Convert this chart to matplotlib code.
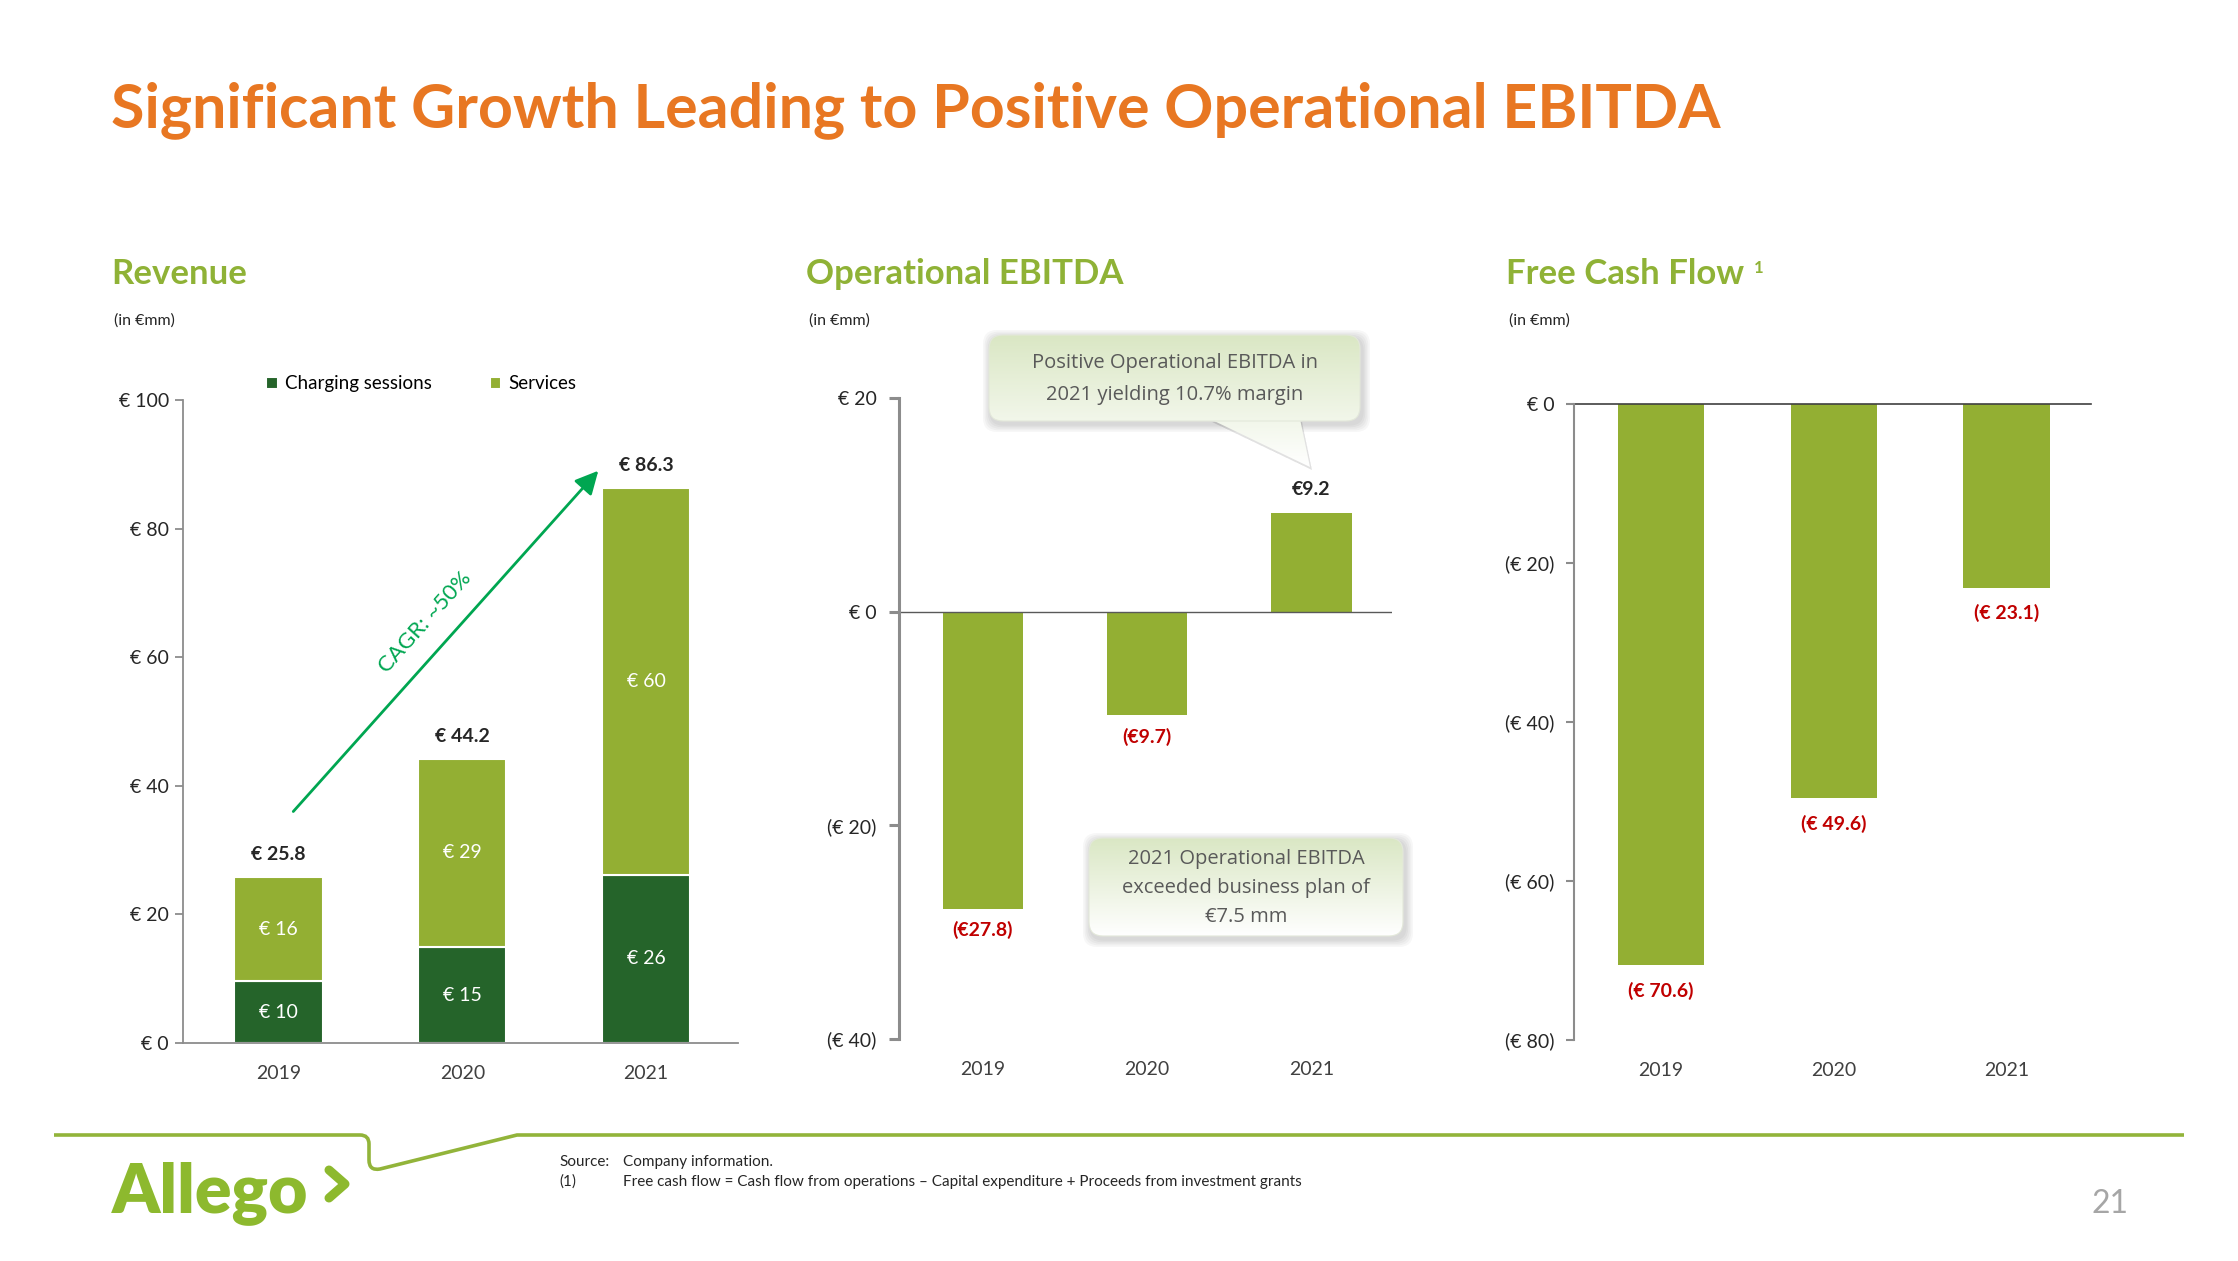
import matplotlib
matplotlib.use('Agg')  # no display in the sandbox
import matplotlib.pyplot as plt
import numpy as np
from matplotlib.patches import FancyBboxPatch, Polygon, PathPatch
from matplotlib.path import Path
from matplotlib.colors import LinearSegmentedColormap
from matplotlib.ticker import FuncFormatter

# --- values ---
years = ['2019', '2020', '2021']
charging_sessions = [9.6, 14.9, 26.2]
services = [16.2, 29.3, 60.1]
revenue_total = [25.8, 44.2, 86.3]
op_ebitda = [-27.8, -9.7, 9.2]
free_cash_flow = [-70.6, -49.6, -23.1]
rev_ticks = [0, 20, 40, 60, 80, 100]
ebitda_ticks = [-40, -20, 0, 20]
fcf_ticks = [-80, -60, -40, -20, 0]
cagr_label = 'CAGR: ~50%'
cagr_start = (0.08, 36)
cagr_end = (1.74, 89)

title = 'Significant Growth Leading to Positive Operational EBITDA'
callout_top = ['Positive Operational EBITDA in', '2021 yielding 10.7% margin']
callout_bottom = ['2021 Operational EBITDA', 'exceeded business plan of', '€7.5 mm']

ORANGE = '#E87722'
LIGHT = '#93AF33'
DARK = '#25642A'
HEAD = '#8FB236'
RED = '#C00000'
TXT = '#262626'
AXIS = '#8C8C8C'
ARROW = '#00A651'

plt.rcParams['font.family'] = ['Lato', 'DejaVu Sans']

W, H = 2238, 1261
fig = plt.figure(figsize=(W / 100, H / 100), dpi=100)


def px_axes(x0, y0, x1, y1):
    return fig.add_axes([x0 / W, 1 - y1 / H, (x1 - x0) / W, (y1 - y0) / H])


def ftext(x, y, s, **kw):
    return fig.text(x / W, 1 - y / H, s, **kw)


def euro(v, pos=None):
    return f'€ {v:.0f}' if v >= 0 else f'(€ {-v:.0f})'


def style_axis(ax, lw, pad, length):
    for s in ['top', 'right', 'bottom']:
        ax.spines[s].set_visible(False)
    ax.spines['left'].set_color(AXIS)
    ax.spines['left'].set_linewidth(lw)
    ax.yaxis.set_major_formatter(FuncFormatter(euro))
    ax.tick_params(axis='y', direction='out', length=length, width=lw, color=AXIS,
                   pad=pad, labelsize=14, labelcolor=TXT)
    ax.tick_params(axis='x', length=0, pad=16, labelsize=14, labelcolor='#404040')


x = np.arange(len(years))

# --- Revenue ---
ax1 = px_axes(183, 400, 738, 1043)
b1 = ax1.bar(x, charging_sessions, 0.48, color=DARK, edgecolor='white', linewidth=1.5)
b2 = ax1.bar(x, services, 0.48, bottom=charging_sessions, color=LIGHT, edgecolor='white', linewidth=1.5)
ax1.set_xlim(-0.52, 2.5)
ax1.set_ylim(0, 100)
ax1.set_yticks(rev_ticks)
ax1.set_xticks(x, years)
style_axis(ax1, 1.3, 4, 6)
ax1.spines['bottom'].set_visible(True)
ax1.spines['bottom'].set_color(AXIS)
ax1.spines['bottom'].set_linewidth(1.3)
for xi, c, s, t in zip(x, charging_sessions, services, revenue_total):
    ax1.text(xi, c / 2, f'€ {c:.0f}', ha='center', va='center', color='white', fontsize=14)
    ax1.text(xi, c + s / 2, f'€ {s:.0f}', ha='center', va='center', color='white', fontsize=14)
    ax1.annotate(f'€ {t}', (xi, t), xytext=(0, 10), textcoords='offset points',
                 ha='center', va='bottom', fontsize=14, weight='bold', color=TXT)
ax1.legend([b1, b2], ['Charging sessions', 'Services'], ncol=2, loc='center left',
           bbox_to_anchor=(0.15, 1.025), frameon=False, fontsize=13.5, handlelength=0.6,
           handleheight=0.6, handletextpad=0.4, columnspacing=3.1, borderpad=0, borderaxespad=0)
ax1.annotate('', xy=cagr_end, xytext=cagr_start,
             arrowprops=dict(arrowstyle='-|>,head_length=1.0,head_width=0.5', mutation_scale=14,
                             color=ARROW, lw=2, shrinkA=0, shrinkB=0))
p0 = ax1.transData.transform(cagr_start)
p1 = ax1.transData.transform(cagr_end)
ang = np.degrees(np.arctan2(p1[1] - p0[1], p1[0] - p0[0]))
t_mid = 0.5
mid = (cagr_start[0] + t_mid * (cagr_end[0] - cagr_start[0]),
       cagr_start[1] + t_mid * (cagr_end[1] - cagr_start[1]))
off = 20
ax1.annotate(cagr_label, mid, xytext=(-off * np.sin(np.radians(ang)), off * np.cos(np.radians(ang))),
             textcoords='offset points', rotation=ang, rotation_mode='anchor',
             ha='center', va='center', color=ARROW, fontsize=16)

# --- Operational EBITDA ---
ax2 = px_axes(899, 398, 1392, 1039)
ax2.bar(x, op_ebitda, 0.49, color=LIGHT)
ax2.axhline(0, color='#595959', lw=1)
ax2.set_xlim(-0.51, 2.49)
ax2.set_ylim(-40, 20)
ax2.set_yticks(ebitda_ticks)
ax2.set_xticks(x, years)
style_axis(ax2, 2.2, 9, 7)
for xi, v in zip(x, op_ebitda):
    if v < 0:
        ax2.annotate(f'(€{-v})', (xi, v), xytext=(0, -9), textcoords='offset points',
                     ha='center', va='top', fontsize=14, weight='bold', color=RED)
    else:
        ax2.annotate(f'€{v}', (xi, v), xytext=(0, 11), textcoords='offset points',
                     ha='center', va='bottom', fontsize=14, weight='bold', color=TXT)

# --- Free Cash Flow ---
ax3 = px_axes(1574, 404, 2091, 1040)
ax3.bar(x, free_cash_flow, 0.5, color=LIGHT)
ax3.axhline(0, color='#404040', lw=1.2, clip_on=False)
ax3.set_xlim(-0.504, 2.49)
ax3.set_ylim(-80, 0)
ax3.set_yticks(fcf_ticks)
ax3.set_xticks(x, years)
style_axis(ax3, 1.5, 8, 6)
for xi, v in zip(x, free_cash_flow):
    ax3.annotate(f'(€ {-v})', (xi, v), xytext=(0, -12), textcoords='offset points',
                 ha='center', va='top', fontsize=14, weight='bold', color=RED)

# --- headings and slide text ---
ftext(111, 127, title, fontsize=43.8, weight='bold', color=ORANGE, va='baseline')
for hx, name in [(111, 'Revenue'), (806, 'Operational EBITDA'), (1506, 'Free Cash Flow')]:
    h = ftext(hx, 284, name, fontsize=25, weight='bold', color=HEAD, va='baseline')
    ftext(hx + 3, 325, '(in €mm)', fontsize=11.5, color=TXT, va='baseline')
fig.canvas.draw()
bb = h.get_window_extent(fig.canvas.get_renderer())
fig.text(bb.x1 / W + 10 / W, 1 - 273 / H, '1', fontsize=12, weight='bold', color=HEAD, va='baseline')

ftext(559, 1166, 'Source:', fontsize=11, color=TXT, va='baseline')
ftext(623, 1166, 'Company information.', fontsize=11, color=TXT, va='baseline')
ftext(559, 1186, '(1)', fontsize=11, color=TXT, va='baseline')
ftext(623, 1186, 'Free cash flow = Cash flow from operations \u2013 Capital expenditure + Proceeds from investment grants',
      fontsize=11, color=TXT, va='baseline')
ftext(2110, 1204, '21', ha='center', va='center', fontsize=23, color='#A6A6A6')
ftext(112, 1212, 'Allego', fontsize=49, weight='heavy', color='#8DB92E', va='baseline')

# --- overlay in pixel coords: footer line, logo chevron, callouts ---
deco = fig.add_axes([0, 0, 1, 1], zorder=5)
deco.patch.set_alpha(0)
deco.axis('off')

verts = [(54, 1135), (360, 1135), (369, 1135), (369, 1144), (369, 1160), (369, 1171), (380, 1169),
         (517, 1135), (2184, 1135)]
codes = [Path.MOVETO, Path.LINETO, Path.CURVE3, Path.CURVE3, Path.LINETO, Path.CURVE3, Path.CURVE3,
         Path.LINETO, Path.LINETO]
deco.add_patch(PathPatch(Path(verts, codes), fc='none', ec='#92B43A', lw=2.6, capstyle='butt'))
deco.plot([329, 345, 329], [1170, 1184, 1198], color='#8DB92E', lw=6.5,
          solid_capstyle='round', solid_joinstyle='round')

cb = LinearSegmentedColormap.from_list('cb', ['#DAE7C4', '#FFFFFF'])
grad = np.linspace(0, 1, 256).reshape(-1, 1)


def callout(x0, y0, x1, y1, lines, tail=None, ls=1.8):
    w, hgt = x1 - x0, y1 - y0
    for k in range(1, 6):
        deco.add_patch(FancyBboxPatch((x0 + 2, y0 + 3), w, hgt, boxstyle=f'round,pad={k * 1.6},rounding_size=14',
                                      fc='black', alpha=0.03, ec='none', zorder=1))
        if tail:
            deco.add_patch(Polygon([(px + 2, py + 3) for px, py in tail], fc='black', alpha=0.025,
                                   ec='none', zorder=1))
    bottom = tail[2][1] if tail else y1
    box = FancyBboxPatch((x0, y0), w, hgt, boxstyle='round,pad=0,rounding_size=14',
                         fc='none', ec='#E3E8DA', lw=0.8, zorder=4)
    deco.add_patch(box)
    im = deco.imshow(grad, cmap=cb, extent=(x0, x1, bottom, y0), aspect='auto', zorder=3)
    im.set_clip_path(box)
    if tail:
        tp = Polygon(tail, fc='none', ec='none', zorder=3)
        deco.add_patch(tp)
        im2 = deco.imshow(grad, cmap=cb, extent=(x0, x1, bottom, y0), aspect='auto', zorder=3)
        im2.set_clip_path(tp)
    deco.text((x0 + x1) / 2, (y0 + y1) / 2 + 1, '\n'.join(lines), ha='center', va='center', fontsize=14.5,
              color='#595959', family=['Open Sans', 'DejaVu Sans'], linespacing=ls, zorder=6)


callout(989, 335, 1360, 421, callout_top, tail=[(1210, 419), (1300, 419), (1310, 467)], ls=1.75)
callout(1089, 838, 1403, 936, callout_bottom, ls=1.62)
deco.set_xlim(0, W)
deco.set_ylim(H, 0)

fig.savefig('out.png', dpi=100)
